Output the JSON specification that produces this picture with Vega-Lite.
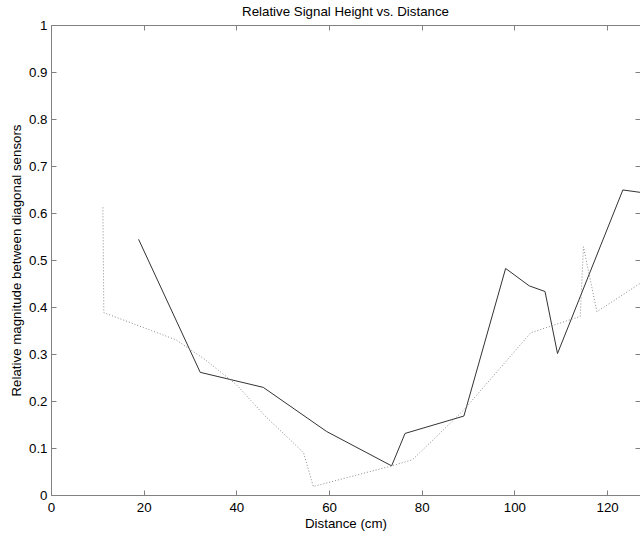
{
  "$schema": "https://vega.github.io/schema/vega-lite/v6.json",
  "width": 589,
  "height": 470,
  "autosize": {"type": "none"},
  "padding": {"left": 51, "top": 25, "right": 0, "bottom": 43},
  "background": "white",
  "title": {
    "text": "Relative Signal Height vs. Distance",
    "font": "Liberation Sans",
    "fontSize": 13.3,
    "fontWeight": "normal",
    "color": "black",
    "offset": 0
  },
  "config": {
    "view": {"stroke": null},
    "axis": {
      "grid": false,
      "domainColor": "#808080",
      "tickColor": "#808080",
      "tickSize": -5,
      "labelFont": "Liberation Sans",
      "labelFontSize": 13.3,
      "labelColor": "black",
      "titleFont": "Liberation Sans",
      "titleFontSize": 13.3,
      "titleFontWeight": "normal",
      "titleColor": "black"
    }
  },
  "datasets": {
    "solid": [
      {"distance": 18.9, "ratio": 0.544},
      {"distance": 32.2, "ratio": 0.261},
      {"distance": 45.8, "ratio": 0.229},
      {"distance": 59.5, "ratio": 0.135},
      {"distance": 73.5, "ratio": 0.062},
      {"distance": 76.4, "ratio": 0.131},
      {"distance": 89.1, "ratio": 0.168},
      {"distance": 98.1, "ratio": 0.482},
      {"distance": 103.2, "ratio": 0.445},
      {"distance": 106.6, "ratio": 0.433},
      {"distance": 109.3, "ratio": 0.301},
      {"distance": 123.4, "ratio": 0.649},
      {"distance": 127.1, "ratio": 0.644}
    ],
    "dotted": [
      {"distance": 11.2, "ratio": 0.612},
      {"distance": 11.4, "ratio": 0.388},
      {"distance": 27.0, "ratio": 0.33},
      {"distance": 33.0, "ratio": 0.29},
      {"distance": 40.0, "ratio": 0.235},
      {"distance": 46.0, "ratio": 0.17},
      {"distance": 54.5, "ratio": 0.09},
      {"distance": 56.6, "ratio": 0.018},
      {"distance": 73.5, "ratio": 0.062},
      {"distance": 78.0, "ratio": 0.075},
      {"distance": 89.0, "ratio": 0.18},
      {"distance": 103.5, "ratio": 0.345},
      {"distance": 114.2, "ratio": 0.38},
      {"distance": 114.9, "ratio": 0.528},
      {"distance": 117.8, "ratio": 0.39},
      {"distance": 127.1, "ratio": 0.45}
    ]
  },
  "layer": [
    {
      "data": {"name": "solid"},
      "mark": {"type": "line", "color": "#333333", "strokeWidth": 1, "clip": true},
      "encoding": {
        "x": {
          "field": "distance",
          "type": "quantitative",
          "scale": {"domain": [0, 127.1], "nice": false, "zero": false},
          "axis": {
            "orient": "bottom",
            "title": "Distance (cm)",
            "values": [0, 20, 40, 60, 80, 100, 120],
            "labelPadding": 10,
            "titlePadding": 3,
            "labelFlush": false,
            "labelOverlap": false
          }
        },
        "y": {
          "field": "ratio",
          "type": "quantitative",
          "scale": {"domain": [0, 1], "nice": false},
          "axis": {
            "orient": "left",
            "title": "Relative magnitude between diagonal sensors",
            "values": [0, 0.1, 0.2, 0.3, 0.4, 0.5, 0.6, 0.7, 0.8, 0.9, 1],
            "format": "~g",
            "labelPadding": 9,
            "titlePadding": 5,
            "labelFlush": false,
            "labelOverlap": false
          }
        }
      }
    },
    {
      "data": {"name": "dotted"},
      "mark": {"type": "line", "color": "#8a8a8a", "strokeWidth": 1, "strokeDash": [1, 2], "clip": true},
      "encoding": {
        "x": {
          "field": "distance",
          "type": "quantitative",
          "axis": {
            "orient": "top",
            "title": null,
            "labels": false,
            "values": [0, 20, 40, 60, 80, 100, 120]
          }
        },
        "y": {
          "field": "ratio",
          "type": "quantitative",
          "axis": {
            "orient": "right",
            "title": null,
            "labels": false,
            "domain": false,
            "values": [0, 0.1, 0.2, 0.3, 0.4, 0.5, 0.6, 0.7, 0.8, 0.9, 1]
          }
        }
      }
    }
  ],
  "resolve": {"axis": {"x": "independent", "y": "independent"}}
}
